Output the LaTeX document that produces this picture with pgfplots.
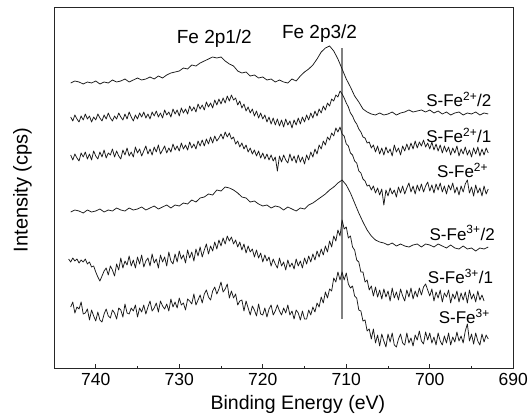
\documentclass[border=0pt]{standalone}
\usepackage{pgfplots}
\pgfplotsset{compat=1.18}
\usepackage{fontspec}
\setmainfont{Liberation Sans}
\pgfplotstableread[row sep=\\]{
x y\\ 743 83\\ 742.5 81\\ 742 82\\ 741.5 84\\ 741 82\\ 740.5 83\\ 740 81\\ 739.5 84\\ 739 82\\ 738.5 83\\ 738 80\\ 737.5 82\\ 737 81\\ 736.5 79\\ 736 82\\ 735.5 80\\ 735 78\\ 734.5 80\\ 734 79\\ 733.5 77\\ 733 79\\ 732.5 76\\ 732 78\\ 731.5 75\\ 731 73\\ 730.5 72\\ 730 71\\ 729.5 68\\ 729 69\\ 728.5 65\\ 728 66\\ 727.5 63\\ 727 61\\ 726.5 59\\ 726 57\\ 725.5 58\\ 725 57\\ 724.5 61\\ 724 64\\ 723.5 66\\ 723 71\\ 722.5 73\\ 722 72\\ 721.5 76\\ 721 75\\ 720.5 78\\ 720 77\\ 719.5 80\\ 719 79\\ 718.5 82\\ 718 80\\ 717.5 82\\ 717 83\\ 716.5 79\\ 716 81\\ 715.5 76\\ 715 72\\ 714.5 69\\ 714 65\\ 713.5 59\\ 713 52\\ 712.5 48\\ 712 46\\ 711.5 51\\ 711 59\\ 710.5 69\\ 710 79\\ 709.5 87\\ 709 96\\ 708.5 102\\ 708 109\\ 707.5 112\\ 707 114\\ 706.5 115\\ 706 113\\ 705.5 115\\ 705 114\\ 704.5 112\\ 704 115\\ 703.5 113\\ 703 112\\ 702.5 110\\ 702 112\\ 701.5 111\\ 701 110\\ 700.5 112\\ 700 110\\ 699.5 113\\ 699 111\\ 698.5 114\\ 698 112\\ 697.5 115\\ 697 113\\ 696.5 112\\ 696 115\\ 695.5 113\\ 695 114\\ 694.5 112\\ 694 115\\ 693.5 113\\ 693 114\\
}\curveA
\pgfplotstableread[row sep=\\]{
x y\\ 743.00 117\\ 742.75 121\\ 742.50 115\\ 742.25 119\\ 742.00 122\\ 741.75 116\\ 741.50 120\\ 741.25 114\\ 741.00 119\\ 740.75 116\\ 740.50 122\\ 740.25 117\\ 740.00 120\\ 739.75 114\\ 739.50 118\\ 739.25 121\\ 739.00 115\\ 738.75 119\\ 738.50 113\\ 738.25 118\\ 738.00 121\\ 737.75 116\\ 737.50 119\\ 737.25 113\\ 737.00 117\\ 736.75 120\\ 736.50 114\\ 736.25 119\\ 736.00 112\\ 735.75 117\\ 735.50 121\\ 735.25 115\\ 735.00 119\\ 734.75 113\\ 734.50 117\\ 734.25 112\\ 734.00 118\\ 733.75 114\\ 733.50 119\\ 733.25 112\\ 733.00 116\\ 732.75 111\\ 732.50 117\\ 732.25 113\\ 732.00 118\\ 731.75 110\\ 731.50 115\\ 731.25 112\\ 731.00 117\\ 730.75 109\\ 730.50 114\\ 730.25 110\\ 730.00 116\\ 729.75 108\\ 729.50 113\\ 729.25 109\\ 729.00 114\\ 728.75 106\\ 728.50 111\\ 728.25 107\\ 728.00 112\\ 727.75 104\\ 727.50 109\\ 727.25 105\\ 727.00 110\\ 726.75 102\\ 726.50 107\\ 726.25 103\\ 726.00 108\\ 725.75 100\\ 725.50 105\\ 725.25 99\\ 725.00 104\\ 724.75 98\\ 724.50 103\\ 724.25 96\\ 724.00 101\\ 723.75 95\\ 723.50 100\\ 723.25 98\\ 723.00 105\\ 722.75 101\\ 722.50 108\\ 722.25 104\\ 722.00 111\\ 721.75 107\\ 721.50 113\\ 721.25 109\\ 721.00 116\\ 720.75 111\\ 720.50 118\\ 720.25 113\\ 720.00 119\\ 719.75 115\\ 719.50 122\\ 719.25 117\\ 719.00 124\\ 718.75 118\\ 718.50 125\\ 718.25 119\\ 718.00 126\\ 717.75 120\\ 717.50 127\\ 717.25 119\\ 717.00 125\\ 716.75 121\\ 716.50 128\\ 716.25 120\\ 716.00 125\\ 715.75 118\\ 715.50 124\\ 715.25 117\\ 715.00 122\\ 714.75 115\\ 714.50 120\\ 714.25 113\\ 714.00 118\\ 713.75 111\\ 713.50 116\\ 713.25 109\\ 713.00 113\\ 712.75 106\\ 712.50 110\\ 712.25 103\\ 712.00 106\\ 711.75 99\\ 711.50 101\\ 711.25 95\\ 711.00 97\\ 710.75 91\\ 710.50 94\\ 710.25 98\\ 710.00 103\\ 709.75 107\\ 709.50 113\\ 709.25 116\\ 709.00 121\\ 708.75 124\\ 708.50 129\\ 708.25 132\\ 708.00 137\\ 707.75 138\\ 707.50 143\\ 707.25 142\\ 707.00 148\\ 706.75 145\\ 706.50 152\\ 706.25 146\\ 706.00 154\\ 705.75 148\\ 705.50 155\\ 705.25 147\\ 705.00 153\\ 704.75 149\\ 704.50 156\\ 704.25 145\\ 704.00 152\\ 703.75 148\\ 703.50 155\\ 703.25 146\\ 703.00 151\\ 702.75 144\\ 702.50 150\\ 702.25 143\\ 702.00 149\\ 701.75 141\\ 701.50 148\\ 701.25 142\\ 701.00 146\\ 700.75 140\\ 700.50 147\\ 700.25 143\\ 700.00 149\\ 699.75 142\\ 699.50 150\\ 699.25 144\\ 699.00 151\\ 698.75 145\\ 698.50 153\\ 698.25 146\\ 698.00 152\\ 697.75 147\\ 697.50 155\\ 697.25 148\\ 697.00 153\\ 696.75 146\\ 696.50 156\\ 696.25 149\\ 696.00 154\\ 695.75 147\\ 695.50 155\\ 695.25 150\\ 695.00 157\\ 694.75 148\\ 694.50 154\\ 694.25 147\\ 694.00 156\\ 693.75 149\\ 693.50 155\\ 693.25 148\\ 693.00 153\\
}\curveB
\pgfplotstableread[row sep=\\]{
x y\\ 743.00 155\\ 742.75 160\\ 742.50 154\\ 742.25 158\\ 742.00 161\\ 741.75 153\\ 741.50 157\\ 741.25 152\\ 741.00 159\\ 740.75 154\\ 740.50 160\\ 740.25 151\\ 740.00 156\\ 739.75 159\\ 739.50 152\\ 739.25 157\\ 739.00 150\\ 738.75 158\\ 738.50 153\\ 738.25 155\\ 738.00 149\\ 737.75 157\\ 737.50 151\\ 737.25 156\\ 737.00 159\\ 736.75 150\\ 736.50 155\\ 736.25 148\\ 736.00 156\\ 735.75 152\\ 735.50 157\\ 735.25 147\\ 735.00 153\\ 734.75 149\\ 734.50 156\\ 734.25 151\\ 734.00 146\\ 733.75 154\\ 733.50 149\\ 733.25 155\\ 733.00 147\\ 732.75 152\\ 732.50 145\\ 732.25 154\\ 732.00 150\\ 731.75 146\\ 731.50 153\\ 731.25 148\\ 731.00 152\\ 730.75 144\\ 730.50 150\\ 730.25 146\\ 730.00 151\\ 729.75 143\\ 729.50 149\\ 729.25 145\\ 729.00 150\\ 728.75 142\\ 728.50 148\\ 728.25 144\\ 728.00 149\\ 727.75 141\\ 727.50 146\\ 727.25 140\\ 727.00 146\\ 726.75 139\\ 726.50 144\\ 726.25 137\\ 726.00 143\\ 725.75 136\\ 725.50 141\\ 725.25 138\\ 725.00 134\\ 724.75 139\\ 724.50 132\\ 724.25 137\\ 724.00 133\\ 723.75 139\\ 723.50 137\\ 723.25 144\\ 723.00 141\\ 722.75 147\\ 722.50 143\\ 722.25 149\\ 722.00 145\\ 721.75 152\\ 721.50 148\\ 721.25 154\\ 721.00 150\\ 720.75 156\\ 720.50 151\\ 720.25 158\\ 720.00 153\\ 719.75 159\\ 719.50 154\\ 719.25 160\\ 719.00 155\\ 718.75 161\\ 718.50 157\\ 718.25 171\\ 718.00 156\\ 717.75 162\\ 717.50 155\\ 717.25 160\\ 717.00 163\\ 716.75 154\\ 716.50 161\\ 716.25 156\\ 716.00 163\\ 715.75 155\\ 715.50 162\\ 715.25 157\\ 715.00 164\\ 714.75 155\\ 714.50 160\\ 714.25 152\\ 714.00 157\\ 713.75 149\\ 713.50 154\\ 713.25 145\\ 713.00 149\\ 712.75 141\\ 712.50 145\\ 712.25 137\\ 712.00 140\\ 711.75 133\\ 711.50 136\\ 711.25 128\\ 711.00 132\\ 710.75 127\\ 710.50 134\\ 710.25 136\\ 710.00 144\\ 709.75 146\\ 709.50 153\\ 709.25 155\\ 709.00 161\\ 708.75 163\\ 708.50 171\\ 708.25 173\\ 708.00 179\\ 707.75 181\\ 707.50 186\\ 707.25 185\\ 707.00 190\\ 706.75 186\\ 706.50 193\\ 706.25 188\\ 706.00 195\\ 705.75 189\\ 705.50 205\\ 705.25 190\\ 705.00 196\\ 704.75 188\\ 704.50 194\\ 704.25 190\\ 704.00 197\\ 703.75 187\\ 703.50 193\\ 703.25 186\\ 703.00 194\\ 702.75 188\\ 702.50 183\\ 702.25 192\\ 702.00 186\\ 701.75 194\\ 701.50 185\\ 701.25 191\\ 701.00 184\\ 700.75 192\\ 700.50 186\\ 700.25 182\\ 700.00 191\\ 699.75 185\\ 699.50 193\\ 699.25 184\\ 699.00 190\\ 698.75 183\\ 698.50 192\\ 698.25 186\\ 698.00 194\\ 697.75 185\\ 697.50 190\\ 697.25 183\\ 697.00 193\\ 696.75 187\\ 696.50 195\\ 696.25 186\\ 696.00 192\\ 695.75 184\\ 695.50 180\\ 695.25 193\\ 695.00 187\\ 694.75 196\\ 694.50 185\\ 694.25 193\\ 694.00 188\\ 693.75 196\\ 693.50 186\\ 693.25 194\\ 693.00 189\\
}\curveC
\pgfplotstableread[row sep=\\]{
x y\\ 743 212\\ 742.5 210\\ 742 211\\ 741.5 213\\ 741 210\\ 740.5 212\\ 740 211\\ 739.5 209\\ 739 212\\ 738.5 210\\ 738 211\\ 737.5 208\\ 737 210\\ 736.5 211\\ 736 208\\ 735.5 210\\ 735 209\\ 734.5 207\\ 734 210\\ 733.5 208\\ 733 206\\ 732.5 209\\ 732 207\\ 731.5 205\\ 731 208\\ 730.5 205\\ 730 206\\ 729.5 203\\ 729 204\\ 728.5 200\\ 728 202\\ 727.5 198\\ 727 197\\ 726.5 194\\ 726 195\\ 725.5 190\\ 725 191\\ 724.5 187\\ 724 188\\ 723.5 190\\ 723 193\\ 722.5 197\\ 722 198\\ 721.5 202\\ 721 201\\ 720.5 204\\ 720 206\\ 719.5 205\\ 719 208\\ 718.5 206\\ 718 207\\ 717.5 210\\ 717 207\\ 716.5 209\\ 716 211\\ 715.5 208\\ 715 209\\ 714.5 205\\ 714 203\\ 713.5 200\\ 713 197\\ 712.5 194\\ 712 190\\ 711.5 187\\ 711 183\\ 710.5 180\\ 710 185\\ 709.5 193\\ 709 203\\ 708.5 213\\ 708 222\\ 707.5 230\\ 707 236\\ 706.5 240\\ 706 242\\ 705.5 243\\ 705 245\\ 704.5 243\\ 704 246\\ 703.5 244\\ 703 246\\ 702.5 247\\ 702 245\\ 701.5 244\\ 701 247\\ 700.5 244\\ 700 245\\ 699.5 247\\ 699 244\\ 698.5 246\\ 698 248\\ 697.5 245\\ 697 248\\ 696.5 249\\ 696 246\\ 695.5 249\\ 695 248\\ 694.5 251\\ 694 248\\ 693.5 249\\ 693 247\\
}\curveD
\pgfplotstableread[row sep=\\]{
x y\\ 743.25 259\\ 743.00 262\\ 742.75 258\\ 742.50 261\\ 742.25 259\\ 742.00 263\\ 741.75 260\\ 741.50 262\\ 741.25 259\\ 741.00 264\\ 740.75 262\\ 740.50 267\\ 740.25 266\\ 740.00 272\\ 739.75 277\\ 739.50 281\\ 739.25 276\\ 739.00 271\\ 738.75 268\\ 738.50 275\\ 738.25 266\\ 738.00 270\\ 737.75 276\\ 737.50 264\\ 737.25 270\\ 737.00 258\\ 736.75 268\\ 736.50 261\\ 736.25 265\\ 736.00 256\\ 735.75 266\\ 735.50 260\\ 735.25 268\\ 735.00 257\\ 734.75 264\\ 734.50 255\\ 734.25 267\\ 734.00 261\\ 733.75 258\\ 733.50 266\\ 733.25 254\\ 733.00 263\\ 732.75 259\\ 732.50 268\\ 732.25 255\\ 732.00 262\\ 731.75 257\\ 731.50 266\\ 731.25 252\\ 731.00 261\\ 730.75 264\\ 730.50 254\\ 730.25 262\\ 730.00 251\\ 729.75 259\\ 729.50 255\\ 729.25 263\\ 729.00 250\\ 728.75 258\\ 728.50 252\\ 728.25 261\\ 728.00 249\\ 727.75 256\\ 727.50 247\\ 727.25 257\\ 727.00 250\\ 726.75 244\\ 726.50 254\\ 726.25 246\\ 726.00 251\\ 725.75 242\\ 725.50 249\\ 725.25 240\\ 725.00 246\\ 724.75 238\\ 724.50 244\\ 724.25 236\\ 724.00 241\\ 723.75 237\\ 723.50 244\\ 723.25 240\\ 723.00 247\\ 722.75 242\\ 722.50 250\\ 722.25 244\\ 722.00 253\\ 721.75 246\\ 721.50 252\\ 721.25 249\\ 721.00 257\\ 720.75 250\\ 720.50 258\\ 720.25 253\\ 720.00 262\\ 719.75 255\\ 719.50 261\\ 719.25 257\\ 719.00 266\\ 718.75 259\\ 718.50 264\\ 718.25 268\\ 718.00 258\\ 717.75 266\\ 717.50 262\\ 717.25 270\\ 717.00 260\\ 716.75 267\\ 716.50 263\\ 716.25 269\\ 716.00 259\\ 715.75 266\\ 715.50 261\\ 715.25 268\\ 715.00 258\\ 714.75 264\\ 714.50 256\\ 714.25 262\\ 714.00 254\\ 713.75 260\\ 713.50 251\\ 713.25 257\\ 713.00 249\\ 712.75 255\\ 712.50 246\\ 712.25 252\\ 712.00 241\\ 711.75 247\\ 711.50 236\\ 711.25 241\\ 711.00 230\\ 710.75 236\\ 710.50 220\\ 710.25 229\\ 710.00 227\\ 709.75 238\\ 709.50 236\\ 709.25 247\\ 709.00 250\\ 708.75 260\\ 708.50 262\\ 708.25 272\\ 708.00 272\\ 707.75 282\\ 707.50 280\\ 707.25 290\\ 707.00 286\\ 706.75 296\\ 706.50 287\\ 706.25 297\\ 706.00 290\\ 705.75 299\\ 705.50 289\\ 705.25 297\\ 705.00 291\\ 704.75 301\\ 704.50 288\\ 704.25 298\\ 704.00 292\\ 703.75 300\\ 703.50 289\\ 703.25 296\\ 703.00 301\\ 702.75 290\\ 702.50 297\\ 702.25 288\\ 702.00 299\\ 701.75 291\\ 701.50 297\\ 701.25 288\\ 701.00 295\\ 700.75 287\\ 700.50 284\\ 700.25 290\\ 700.00 296\\ 699.75 289\\ 699.50 301\\ 699.25 292\\ 699.00 298\\ 698.75 290\\ 698.50 302\\ 698.25 293\\ 698.00 297\\ 697.75 290\\ 697.50 303\\ 697.25 294\\ 697.00 299\\ 696.75 291\\ 696.50 302\\ 696.25 293\\ 696.00 300\\ 695.75 292\\ 695.50 303\\ 695.25 290\\ 695.00 299\\ 694.75 294\\ 694.50 302\\ 694.25 291\\ 694.00 300\\ 693.75 295\\ 693.50 301\\
}\curveE
\pgfplotstableread[row sep=\\]{
x y\\ 743.00 307\\ 742.75 302\\ 742.50 313\\ 742.25 307\\ 742.00 309\\ 741.75 302\\ 741.50 314\\ 741.25 313\\ 741.00 309\\ 740.75 320\\ 740.50 310\\ 740.25 316\\ 740.00 321\\ 739.75 312\\ 739.50 320\\ 739.25 322\\ 739.00 314\\ 738.75 309\\ 738.50 316\\ 738.25 318\\ 738.00 310\\ 737.75 313\\ 737.50 319\\ 737.25 308\\ 737.00 310\\ 736.75 317\\ 736.50 304\\ 736.25 313\\ 736.00 314\\ 735.75 308\\ 735.50 311\\ 735.25 305\\ 735.00 317\\ 734.75 308\\ 734.50 312\\ 734.25 305\\ 734.00 314\\ 733.75 307\\ 733.50 301\\ 733.25 311\\ 733.00 308\\ 732.75 303\\ 732.50 312\\ 732.25 301\\ 732.00 306\\ 731.75 309\\ 731.50 304\\ 731.25 311\\ 731.00 299\\ 730.75 307\\ 730.50 302\\ 730.25 308\\ 730.00 298\\ 729.75 305\\ 729.50 303\\ 729.25 310\\ 729.00 299\\ 728.75 301\\ 728.50 304\\ 728.25 294\\ 728.00 305\\ 727.75 300\\ 727.50 295\\ 727.25 303\\ 727.00 294\\ 726.75 290\\ 726.50 297\\ 726.25 300\\ 726.00 291\\ 725.75 287\\ 725.50 294\\ 725.25 289\\ 725.00 282\\ 724.75 292\\ 724.50 289\\ 724.25 284\\ 724.00 298\\ 723.75 291\\ 723.50 298\\ 723.25 294\\ 723.00 305\\ 722.75 301\\ 722.50 300\\ 722.25 311\\ 722.00 301\\ 721.75 308\\ 721.50 315\\ 721.25 306\\ 721.00 310\\ 720.75 316\\ 720.50 304\\ 720.25 314\\ 720.00 315\\ 719.75 308\\ 719.50 317\\ 719.25 309\\ 719.00 305\\ 718.75 315\\ 718.50 311\\ 718.25 305\\ 718.00 311\\ 717.75 315\\ 717.50 308\\ 717.25 313\\ 717.00 305\\ 716.75 315\\ 716.50 311\\ 716.25 319\\ 716.00 310\\ 715.75 313\\ 715.50 320\\ 715.25 311\\ 715.00 319\\ 714.75 319\\ 714.50 310\\ 714.25 315\\ 714.00 307\\ 713.75 312\\ 713.50 303\\ 713.25 307\\ 713.00 297\\ 712.75 303\\ 712.50 292\\ 712.25 298\\ 712.00 289\\ 711.75 291\\ 711.50 278\\ 711.25 282\\ 711.00 272\\ 710.75 280\\ 710.50 272\\ 710.25 280\\ 710.00 273\\ 709.75 284\\ 709.50 288\\ 709.25 286\\ 709.00 296\\ 708.75 298\\ 708.50 310\\ 708.25 311\\ 708.00 321\\ 707.75 320\\ 707.50 331\\ 707.25 329\\ 707.00 339\\ 706.75 329\\ 706.50 343\\ 706.25 335\\ 706.00 346\\ 705.75 334\\ 705.50 341\\ 705.25 347\\ 705.00 334\\ 704.75 342\\ 704.50 333\\ 704.25 345\\ 704.00 347\\ 703.75 339\\ 703.50 334\\ 703.25 343\\ 703.00 345\\ 702.75 333\\ 702.50 343\\ 702.25 338\\ 702.00 346\\ 701.75 335\\ 701.50 340\\ 701.25 331\\ 701.00 341\\ 700.75 344\\ 700.50 332\\ 700.25 340\\ 700.00 333\\ 699.75 343\\ 699.50 337\\ 699.25 345\\ 699.00 333\\ 698.75 341\\ 698.50 345\\ 698.25 336\\ 698.00 343\\ 697.75 333\\ 697.50 345\\ 697.25 337\\ 697.00 342\\ 696.75 332\\ 696.50 341\\ 696.25 336\\ 696.00 343\\ 695.75 331\\ 695.50 324\\ 695.25 341\\ 695.00 334\\ 694.75 344\\ 694.50 333\\ 694.25 341\\ 694.00 345\\ 693.75 334\\ 693.50 342\\ 693.25 335\\ 693.00 339\\
}\curveF
\begin{document}
\begin{tikzpicture}[x=1pt,y=1pt]
\useasboundingbox (-54,-46.7) rectangle (477,368.3);
\begin{axis}[
  at={(0,0)}, anchor=south west,
  scale only axis, width=459.3pt, height=361pt,
  xmin=690, xmax=745, x dir=reverse,
  ymin=7.3, ymax=368.3, y dir=reverse,
  axis line style={black!85, line width=0.8pt},
  xtick={690,700,...,740}, minor xtick={695,705,...,735},
  xtick pos=bottom, ytick=\empty,
  tick align=inside, major tick length=4pt, minor tick length=2.5pt,
  tick style={black!85, line width=0.7pt},
  /pgf/number format/assume math mode=true,
  xticklabel style={font=\fontsize{17.5}{20}\selectfont, yshift=-1.5pt},
  xlabel={Binding Energy (eV)},
  xlabel style={font=\fontsize{19.5}{22}\selectfont, at={(axis description cs:0.531,-0.1155)}, anchor=base},
  ylabel={Intensity (cps)},
  ylabel style={font=\fontsize{20}{23}\selectfont, at={(axis description cs:-0.0686,0.494)}, anchor=center},
  clip=false,
  spec/.style={black!90, line width=0.75pt, line join=round, mark=none},
]
\addplot[gray, line width=1.3pt] coordinates {(710.5,48) (710.5,319)};
\addplot[spec] table {\curveA};
\addplot[spec] table {\curveB};
\addplot[spec] table {\curveC};
\addplot[spec] table {\curveD};
\addplot[spec] table {\curveE};
\addplot[spec] table {\curveF};
\node[anchor=base, font=\fontsize{19}{22}\selectfont] at (axis cs:725.8,43.3) {Fe 2p1/2};
\node[anchor=base, font=\fontsize{19}{22}\selectfont] at (axis cs:713.2,38.3) {Fe 2p3/2};
\begin{scope}[every node/.style={anchor=base east, inner sep=0pt, font=\fontsize{17}{20}\selectfont}]
\node at (axis cs:692.6,106.7) {S-Fe\textsuperscript{2+}/2};
\node at (axis cs:692.6,142.3) {S-Fe\textsuperscript{2+}/1};
\node at (axis cs:693.0,177.3) {S-Fe\textsuperscript{2+}};
\node at (axis cs:692.2,240) {S-Fe\textsuperscript{3+}/2};
\node at (axis cs:692.4,283.3) {S-Fe\textsuperscript{3+}/1};
\node at (axis cs:692.8,323.3) {S-Fe\textsuperscript{3+}};
\end{scope}
\end{axis}
\end{tikzpicture}
\end{document}
